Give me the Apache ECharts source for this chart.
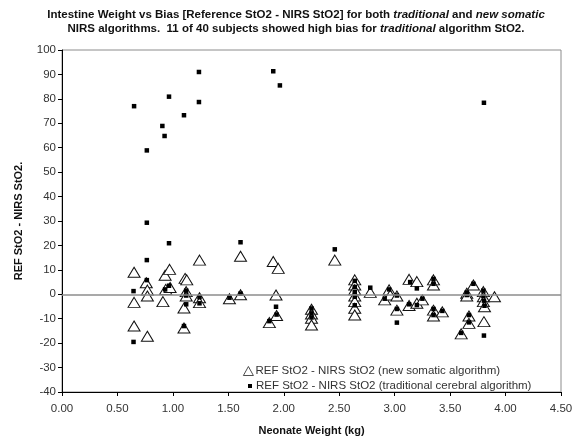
<!DOCTYPE html>
<html>
<head>
<meta charset="utf-8">
<script src="https://cdn.jsdelivr.net/npm/echarts@6/dist/echarts.min.js"></script>
<style>html,body{margin:0;padding:0;background:#fff}#c{width:582px;height:437px}</style>
</head>
<body>
<div id="c"></div>
<script>
// Neonate weight (kg) and bias for new somatic algorithm (triangles)
const somaticWeight = [0.65,0.65,0.65,0.77,0.76,0.77,0.77,0.91,0.93,0.97,0.935,0.975,1.11,1.125,1.12,1.12,1.10,1.10,1.24,1.24,1.24,1.51,1.61,1.61,1.905,1.95,1.93,1.935,1.87,2.25,2.25,2.25,2.25,2.46,2.64,2.64,2.64,2.64,2.64,2.64,2.64,2.78,2.91,2.95,2.96,3.02,3.02,3.13,3.20,3.13,3.20,3.25,3.35,3.35,3.35,3.35,3.43,3.65,3.65,3.71,3.67,3.67,3.60,3.80,3.80,3.80,3.81,3.805,3.90];
const somaticBias   = [9,-3.3,-13,-17.2,4.7,1.7,-0.7,-3,7.8,10.2,2,2.8,6.5,5.9,1.1,-0.7,-5.6,-13.8,14,-1.4,-3.4,-1.8,15.6,-0.2,13.4,10.6,-0.3,-8.7,-11.6,-6.1,-8.1,-9.8,-12.6,14,5.9,3.8,1.8,-0.7,-3,-5.7,-8.5,0.8,-2.3,1.8,-0.3,-6.5,-0.7,6.1,5.2,-4.6,-3.7,-2.3,5.9,3.8,-6.5,-8.9,-7.2,0.4,-0.7,3.8,-8.9,-11.9,-16.2,1.1,-1.0,-3.0,-5.1,-11.2,-1.0];
// Neonate weight (kg) and bias for traditional cerebral algorithm (squares)
const tradWeight = [0.65,0.765,0.905,0.925,0.965,1.10,1.235,1.235,1.905,1.965,3.805,0.765,0.965,1.61,0.765,0.645,0.645,1.12,0.765,0.965,0.93,1.12,1.12,1.10,1.24,1.24,1.51,1.61,1.93,1.935,1.87,2.25,2.25,2.25,2.46,2.64,2.64,2.64,2.64,2.64,2.78,2.91,2.95,3.02,3.02,3.02,3.13,3.14,3.2,3.2,3.25,3.35,3.35,3.35,3.35,3.43,3.65,3.65,3.71,3.67,3.67,3.60,3.80,3.80,3.805,3.81,3.805];
const tradBias   = [77,58.9,68.9,64.8,80.9,73.3,91,78.7,91.3,85.5,78.4,29.3,20.9,21.3,14,1.3,-19.5,-4.1,5.8,3.5,2,1.5,-0.5,-13,-1.2,-3.7,-1.4,0.3,-5.1,-8.3,-11,-5.8,-7.8,-9.5,18.4,5.5,3,1,-1,-4.5,2.7,-1.8,2,-6,-0.5,-11.6,-4.1,5,2.4,-4.4,-1.8,6.3,4.3,-6,-8.5,-6.8,0.7,-0.3,4.3,-8.5,-11.5,-15.8,1.5,-0.6,-2.6,-4.7,-16.9];
const xTicks = {min: 0, max: 4.5, step: 0.5};
const yTicks = {min: -40, max: 100, step: 10};
const nameSomatic = 'REF StO2 - NIRS StO2 (new somatic algorithm)';
const nameTrad = 'REF StO2 - NIRS StO2 (traditional cerebral algorithm)';

const somaticData = somaticWeight.map((w, i) => [w, somaticBias[i]]);
const tradData = tradWeight.map((w, i) => [w, tradBias[i]]);
const FONT = 'Liberation Sans, Arial, sans-serif';

const chart = echarts.init(document.getElementById('c'), null, {renderer: 'canvas'});
chart.setOption({
  animation: false,
  backgroundColor: '#fff',
  title: {
    left: 291, top: 3, textAlign: 'center',
    text: '{b|Intestine Weight vs Bias [Reference StO2 - NIRS StO2] for both }{i|traditional}{b| and }{i|new somatic}\n{b|NIRS algorithms.  11 of 40 subjects showed high bias for }{i|traditional}{b| algorithm StO2.}',
    textStyle: {
      fontSize: 11.5, lineHeight: 14, color: '#111',
      rich: {
        b: {fontFamily: FONT, fontWeight: 'bold', fontSize: 11.5, lineHeight: 14, color: '#111'},
        i: {fontFamily: FONT, fontStyle: 'italic', fontSize: 11.5, lineHeight: 14, color: '#111'}
      }
    }
  },
  grid: {left: 62, right: 21, top: 50, bottom: 45, show: true, borderColor: '#8c8c8c', borderWidth: 1,
         containLabel: false, outerBoundsMode: 'none'},
  legend: [
    {data: [{name: nameSomatic, icon: 'triangle'}], left: 243, top: 365, itemWidth: 10, itemHeight: 9, itemGap: 2, padding: 0,
     itemStyle: {color: '#fff', borderColor: '#222', borderWidth: 0.8},
     textStyle: {fontFamily: FONT, fontSize: 11.5, color: '#333', padding: [0,0,0,-3]}},
    {data: [{name: nameTrad, icon: 'rect'}], left: 248, top: 380, itemWidth: 4, itemHeight: 4, padding: 0,
     textStyle: {fontFamily: FONT, fontSize: 11.5, color: '#333', padding: [0,0,0,-1]}}
  ],
  xAxis: {
    type: 'value', min: xTicks.min, max: xTicks.max, interval: xTicks.step,
    name: 'Neonate Weight (kg)', nameLocation: 'middle', nameGap: 33,
    nameTextStyle: {fontFamily: FONT, fontWeight: 'bold', fontSize: 11, color: '#111'},
    axisLine: {show: true, onZero: false, lineStyle: {color: '#000', width: 1}},
    axisTick: {show: true, inside: false, length: 4, lineStyle: {color: '#000'}},
    axisLabel: {fontFamily: FONT, fontSize: 11.5, color: '#333', margin: 11, formatter: v => v.toFixed(2)},
    splitLine: {show: false}
  },
  yAxis: {
    type: 'value', min: yTicks.min, max: yTicks.max, interval: yTicks.step,
    name: 'REF StO2 - NIRS StO2.', nameLocation: 'middle', nameGap: 38,
    nameTextStyle: {fontFamily: FONT, fontWeight: 'bold', fontSize: 11, color: '#111'},
    axisLine: {show: true, onZero: false, lineStyle: {color: '#000', width: 1}},
    axisTick: {show: true, inside: false, length: 4, lineStyle: {color: '#000'}},
    axisLabel: {fontFamily: FONT, fontSize: 11.5, color: '#333', margin: 6},
    splitLine: {show: false}
  },
  series: [
    {
      name: 'zero', type: 'scatter', data: [], z: 1, silent: true,
      markLine: {silent: true, symbol: ['none', 'none'], label: {show: false},
        lineStyle: {color: '#8c8c8c', width: 1.5, type: 'solid'}, data: [{yAxis: 0}]}
    },
    {
      name: nameSomatic, type: 'scatter', symbol: 'triangle', symbolSize: [12, 10], z: 2,
      itemStyle: {color: '#fff', borderColor: '#111', borderWidth: 1, opacity: 1},
      data: somaticData
    },
    {
      name: nameTrad, type: 'scatter', symbol: 'rect', symbolSize: 4.5, z: 3,
      itemStyle: {color: '#000', opacity: 1},
      data: tradData
    }
  ]
});
</script>
</body>
</html>
